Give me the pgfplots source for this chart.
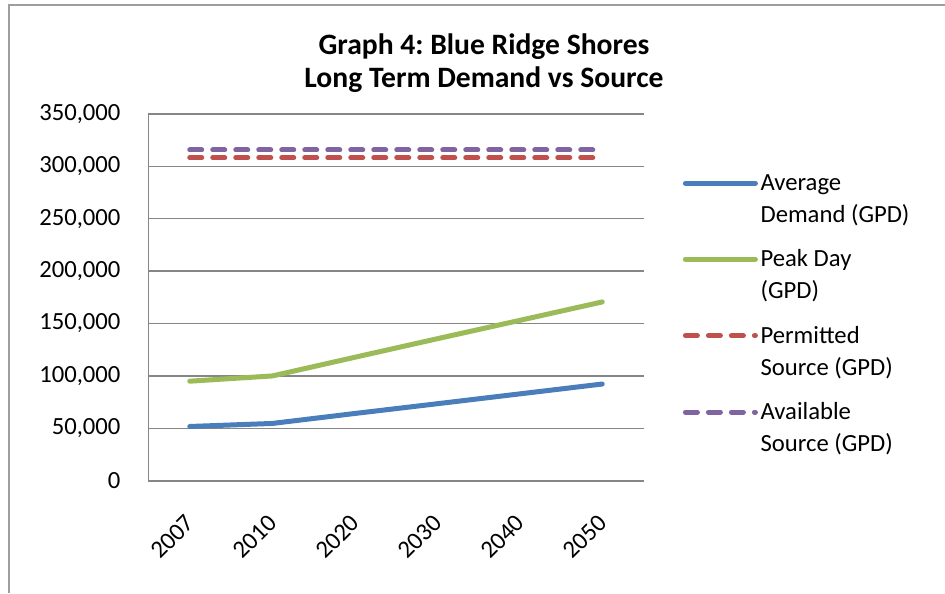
\documentclass[border=0pt]{standalone}
\usepackage{pgfplots}
\pgfplotsset{compat=1.18}
\usepackage{fontspec}
\setmainfont{Carlito}
\frenchspacing
\definecolor{cblue}{HTML}{4A7EBB}
\definecolor{cgreen}{HTML}{9BBB59}
\definecolor{cred}{HTML}{C0504D}
\definecolor{cpurple}{HTML}{8064A2}
\definecolor{cgrid}{HTML}{868686}
\begin{document}
\begin{tikzpicture}[x=0.75pt,y=0.75pt]
\useasboundingbox (0,0) rectangle (945,593);
\draw[color=cgrid!80, line width=1.5pt] (9,0) -- (9,588) -- (945,588);
\node[font=\bfseries\fontsize{22.2}{25}\selectfont, align=center] at (484,530) {Graph 4: Blue Ridge Shores\\Long Term Demand vs Source};
\begin{axis}[
  at={(180,107)}, anchor=south west,
  scale only axis, width=371.25pt, height=275.25pt,
  xmin=-0.5, xmax=5.5, ymin=0, ymax=350000,
  xtick={0,...,5}, xticklabels={2007,2010,2020,2030,2040,2050},
  ytick={0,50000,...,350000},
  scaled y ticks=false,
  yticklabel style={/pgf/number format/fixed, /pgf/number format/1000 sep={,}, xshift=-17.5pt},
  /pgf/number format/assume math mode=true,
  ymajorgrids, grid style={color=cgrid, line width=1.1pt},
  axis x line*=bottom, axis y line*=left,
  axis line style={color=cgrid, line width=1.1pt, -},
  major tick length=0pt,
  tick label style={font=\fontsize{18.5}{24}\selectfont},
  xticklabel style={rotate=45, anchor=east, xshift=-16.5pt, yshift=-20.5pt},
  legend cell align=left,
  legend style={draw=none, fill=none, at={(1.071,0.85)}, anchor=north west,
    font=\fontsize{18.5}{24}\selectfont, row sep=15pt,
    nodes={align=left, inner sep=2pt}},
  legend image code/.code={\draw[#1] (0pt,12pt) -- (52.5pt,12pt);},
]
\addplot[color=cblue, line width=3.75pt, line cap=round] coordinates {(0,51800) (1,54700) (2,64200) (3,73500) (4,82900) (5,92300)};
\addlegendentry{Average\\Demand (GPD)}
\addplot[color=cgreen, line width=3.75pt, line cap=round] coordinates {(0,95000) (1,100000) (2,117800) (3,135500) (4,153000) (5,170600)};
\addlegendentry{Peak Day\\(GPD)}
\addplot[color=cred, line width=3.75pt, line cap=round, dash pattern=on 9pt off 8.25pt] coordinates {(0,308000) (1,308000) (2,308000) (3,308000) (4,308000) (5,308000)};
\addlegendentry{Permitted\\Source (GPD)}
\addplot[color=cpurple, line width=3.75pt, line cap=round, dash pattern=on 9pt off 8.25pt] coordinates {(0,315500) (1,315500) (2,315500) (3,315500) (4,315500) (5,315500)};
\addlegendentry{Available\\Source (GPD)}
\end{axis}
\end{tikzpicture}
\end{document}
